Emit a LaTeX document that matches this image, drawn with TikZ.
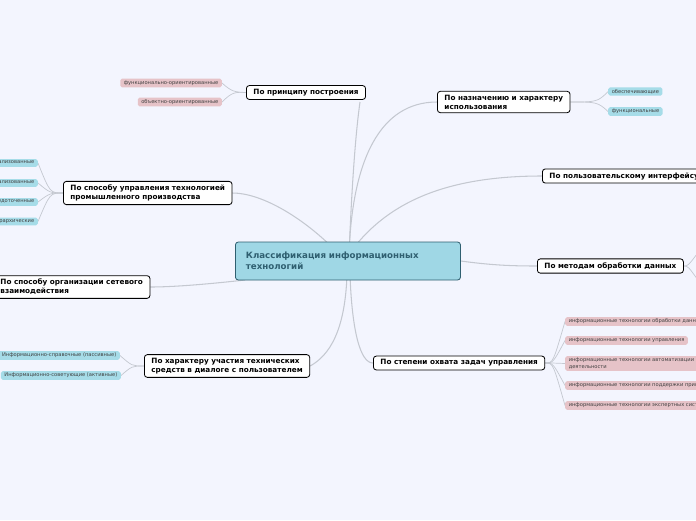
\documentclass[tikz,border=0pt]{standalone}
\usepackage{fontspec}
\setmainfont{DejaVu Sans}
\usetikzlibrary{backgrounds}
\definecolor{bgblue}{HTML}{F3F5FE}
\definecolor{rootfill}{HTML}{9FD7E5}
\definecolor{rootline}{HTML}{2F5F70}
\definecolor{leafblue}{HTML}{A6DCE8}
\definecolor{leafpink}{HTML}{E6C3C8}
\definecolor{branchgray}{HTML}{C4C8D0}
\tikzset{
  topic/.style={draw=black,fill=white,rounded corners=2.5pt,line width=0.7pt,align=left,
    font=\bfseries\fontsize{6.2}{7.6}\selectfont,inner xsep=6pt,inner ysep=3pt,anchor=west},
  root/.style={topic,draw=rootline,fill=rootfill,text=rootline,font=\bfseries\fontsize{7.4}{9}\selectfont,
    inner xsep=9pt,inner ysep=5pt,minimum height=38*0.03cm,text width=204*0.03cm},
  blueleaf/.style={fill=leafblue,rounded corners=1.5pt,font=\fontsize{4.4}{5.4}\selectfont,
    text=black!75,inner xsep=3pt,inner ysep=1.6pt,anchor=east,align=left},
  pinkleaf/.style={blueleaf,fill=leafpink,anchor=west},
  branch/.style={draw=branchgray,line width=0.9pt},
  twig/.style={draw=branchgray,line width=0.6pt}
}
\begin{document}
\begin{tikzpicture}[x=0.03cm,y=-0.03cm]
\useasboundingbox (0,0) rectangle (696,520);
\clip (0,0) rectangle (696,520);
% main topics
\node[root] (root) at (235,261) {Классификация информационных\\технологий};
\node[topic] (build) at (246,92.5) {По принципу построения};
\node[topic] (purpose) at (437,102) {По назначению и характеру\\использования};
\node[topic] (ui) at (542,176) {По пользовательскому интерфейсу};
\node[topic] (data) at (537,266) {По методам обработки данных};
\node[topic] (scope) at (373,363) {По степени охвата задач управления};
\node[topic] (dialog) at (144,366) {По характеру участия технических\\средств в диалоге с пользователем};
\node[topic] (net) at (-7,287) {По способу организации сетевого\\взаимодействия};
\node[topic] (prod) at (63,193) {По способу управления технологией\\промышленного производства};
% leaves
\node[pinkleaf,anchor=east] (fo) at (222,83) {функционально-ориентированные};
\node[pinkleaf,anchor=east] (oo) at (222,102) {объектно-ориентированные};
\node[blueleaf,anchor=west] (sup) at (608,91.5) {обеспечивающие};
\node[blueleaf,anchor=west] (fun) at (608,111.5) {функциональные};
\node[blueleaf] (centr) at (38,163) {централизованные};
\node[blueleaf] (decentr) at (38,183) {децентрализованные};
\node[blueleaf] (conc) at (38,202) {сосредоточенные};
\node[blueleaf] (hier) at (38,221.5) {иерархические};
\node[blueleaf] (pass) at (120,355.5) {Информационно-справочные (пассивные)};
\node[blueleaf] (act) at (121,375.5) {Информационно-советующие (активные)};
\node[pinkleaf] (s1) at (565,321.5) {информационные технологии обработки данных};
\node[pinkleaf] (s2) at (565,340.5) {информационные технологии управления};
\node[pinkleaf] (s3) at (565,363.5) {информационные технологии автоматизации офисной\\деятельности};
\node[pinkleaf] (s4) at (565,385.5) {информационные технологии поддержки принятия решений};
\node[pinkleaf] (s5) at (565,405.5) {информационные технологии экспертных систем};
\coordinate (d1) at (700,250);
\coordinate (d2) at (700,283);
\begin{pgfonlayer}{background}
\fill[bgblue] (0,0) rectangle (696,520);
\draw[branch] (349,255) .. controls (352,180) and (356,130) .. (360,102);
\draw[branch] (349,255) .. controls (352,160) and (380,102) .. (purpose.west);
\draw[branch] (352,250) .. controls (390,200) and (450,176) .. (ui.west);
\draw[branch] (root.east) .. controls (490,265) and (510,266) .. (data.west);
\draw[branch] (350,275) .. controls (352,330) and (360,363) .. (scope.west);
\draw[branch] (347,275) .. controls (345,330) and (330,355) .. (dialog.east);
\draw[branch] (245,280) .. controls (200,285) and (170,287) .. (net.east);
\draw[branch] (335,250) .. controls (300,215) and (260,193) .. (prod.east);
\foreach \l in {fo,oo} \draw[twig] (build.west) .. controls (235,92) and (232,92) .. (\l.east);
\foreach \l in {sup,fun} \draw[twig] (purpose.east) .. controls (596,102) and (598,102) .. (\l.west);
\foreach \l in {centr,decentr,conc,hier} \draw[twig] (prod.west) .. controls (50,193) and (50,193) .. (\l.east);
\foreach \l in {pass,act} \draw[twig] (dialog.west) .. controls (132,366) and (132,366) .. (\l.east);
\foreach \l in {s1,s2,s3,s4,s5} \draw[twig] (scope.east) .. controls (553,363) and (553,363) .. (\l.west);
\foreach \l in {d1,d2} \draw[twig] (data.east) .. controls (688,266) and (688,266) .. (\l);
\end{pgfonlayer}
\end{tikzpicture}
\end{document}
